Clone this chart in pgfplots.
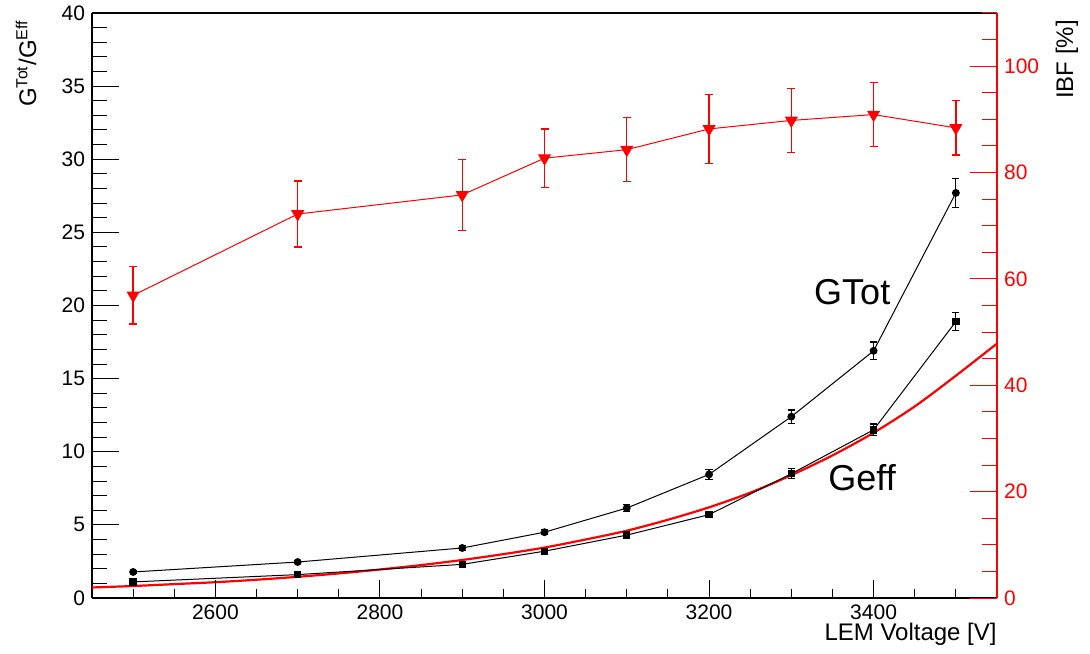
\documentclass[border=0pt]{standalone}
\usepackage{fontspec}
\setmainfont{Liberation Sans}
\usepackage{pgfplots}
\usepackage{pgfplotstable}
\pgfplotsset{compat=1.18}

\pgfplotstableread{
x y e
2500 1.78 0.12
2700 2.46 0.12
2900 3.42 0.15
3000 4.50 0.18
3100 6.15 0.25
3200 8.45 0.35
3300 12.40 0.45
3400 16.90 0.60
3500 27.70 1.00
}\gtot
\pgfplotstableread{
x y e
2500 1.10 0.10
2700 1.60 0.10
2900 2.30 0.12
3000 3.20 0.15
3100 4.30 0.18
3200 5.70 0.22
3300 8.50 0.35
3400 11.50 0.40
3500 18.90 0.60
}\geff
\pgfplotstableread{
x y e
2500 56.9 5.4
2700 72.2 6.2
2900 75.8 6.7
3000 82.7 5.5
3100 84.3 6.0
3200 88.2 6.5
3300 89.8 6.0
3400 90.9 6.0
3500 88.4 5.1
}\ibf
\pgfplotstableread{
x y
2450 0.72
2500 0.82
2550 0.95
2600 1.08
2650 1.25
2700 1.45
2750 1.68
2800 1.95
2850 2.25
2900 2.60
2950 3.00
3000 3.45
3050 4.00
3100 4.60
3150 5.35
3200 6.20
3250 7.20
3300 8.40
3350 9.75
3400 11.30
3450 13.10
3500 15.20
3550 17.40
}\fit

\begin{document}
\begin{tikzpicture}
\useasboundingbox (-46pt,-27.5pt) rectangle (499pt,299pt);
\pgfplotsset{
  every axis/.append style={
    scale only axis, width=452.5pt, height=292.5pt,
    at={(0,0)}, anchor=south west,
    xmin=2450, xmax=3550,
    tick align=inside,
    /pgf/number format/assume math mode=true,
    /pgf/number format/1000 sep={},
    tick label style={font=\fontsize{10.5}{12}\selectfont},
    clip=false,
  }
}
% left y axis with frame and data
\begin{axis}[
  name=main,
  ymin=0, ymax=40,
  axis x line*=box, axis y line*=left,
  xtick=\empty,
  ytick={0,5,...,40},
  minor ytick={0,1,...,40},
  ytick pos=left,
  major tick length=13.5pt, minor tick length=7.5pt,
  axis line style={black, line width=0.6pt},
  every tick/.style={black, line width=0.5pt},
]
\addplot[red, line width=1.1pt, smooth] table[x=x,y=y] {\fit};
\addplot[black, line width=0.5pt, mark=*, mark size=1.7pt,
  error bars/.cd, y dir=both, y explicit, error mark=-,
  error bar style={black, line width=0.6pt},
  error mark options={black, rotate=90, mark size=1.8pt, line width=0.6pt}]
  table[x=x,y=y,y error=e] {\gtot};
\addplot[black, line width=0.5pt, mark=square*, mark size=1.6pt,
  error bars/.cd, y dir=both, y explicit, error mark=-,
  error bar style={black, line width=0.6pt},
  error mark options={black, rotate=90, mark size=1.8pt, line width=0.6pt}]
  table[x=x,y=y,y error=e] {\geff};
\node at (axis cs:3374,20.9) {\fontsize{18}{20}\selectfont GTot};
\node at (axis cs:3386,8.2) {\fontsize{18}{20}\selectfont Geff};
\end{axis}
% x ticks
\begin{axis}[
  ymin=0, ymax=40,
  axis y line=none, axis x line*=bottom,
  xtick={2600,2800,...,3400},
  minor xtick={2450,2500,...,3550},
  major tick length=9pt, minor tick length=4.7pt,
  axis line style={black, line width=0.6pt},
  every tick/.style={black, line width=0.5pt},
]
\end{axis}
% right IBF axis
\begin{axis}[
  ymin=0, ymax=110,
  axis x line=none, axis y line*=right,
  ytick={0,20,...,100},
  minor ytick={0,5,...,110},
  major tick length=13.5pt, minor tick length=7.5pt,
  axis line style={red, line width=0.6pt},
  every tick/.style={red, line width=0.5pt},
  yticklabel style={text=red},
]
\addplot[red, line width=0.5pt, mark=triangle*, mark size=3.3pt,
  every mark/.append style={rotate=180},
  error bars/.cd, y dir=both, y explicit, error mark=-,
  error bar style={red, line width=0.7pt},
  error mark options={red, rotate=90, mark size=2pt, line width=0.7pt}]
  table[x=x,y=y,y error=e] {\ibf};
\end{axis}
\node[rotate=90, anchor=east, font=\fontsize{12}{14}\selectfont] at ([xshift=-33pt]main.north west) {G\textsuperscript{Tot}/G\textsuperscript{Eff}};
\node[rotate=90, anchor=east, font=\fontsize{12}{14}\selectfont] at ([xshift=35pt]main.north east) {IBF [\%]};
\node[anchor=east, inner sep=0pt, font=\fontsize{12}{14}\selectfont] at ([yshift=-18pt]main.south east) {LEM Voltage [V]};
\end{tikzpicture}
\end{document}
